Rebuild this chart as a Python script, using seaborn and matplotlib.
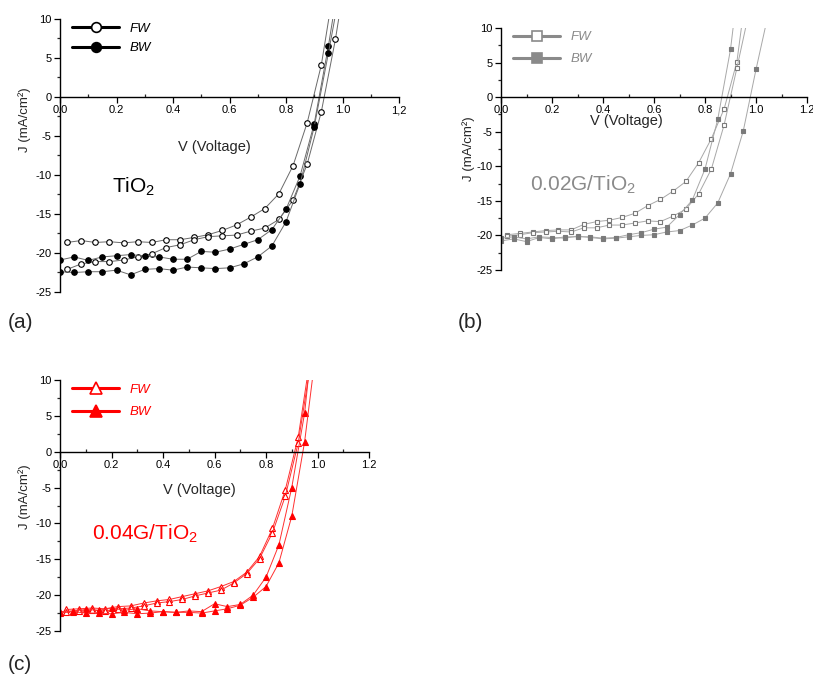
import matplotlib
matplotlib.use("Agg")
import matplotlib.pyplot as plt
import seaborn as sns
from matplotlib.lines import Line2D
from matplotlib.ticker import MultipleLocator, FixedLocator, FixedFormatter

# voltage grids (FW markers sit between BW markers)
v_fw = [0.025, 0.075, 0.125, 0.175, 0.225, 0.275, 0.325, 0.375, 0.425, 0.475,
        0.525, 0.575, 0.625, 0.675, 0.725, 0.775, 0.825, 0.875, 0.925, 0.975]
v_bw = [0.0, 0.05, 0.1, 0.15, 0.2, 0.25, 0.3, 0.35, 0.4, 0.45, 0.5,
        0.55, 0.6, 0.65, 0.7, 0.75, 0.8, 0.85, 0.9, 0.95, 1.0]

# (a) TiO2
a_fw1 = [-18.65, -18.4, -18.65, -18.55, -18.7, -18.55, -18.65, -18.3, -18.3, -18.0,
         -17.65, -17.1, -16.4, -15.4, -14.3, -12.4, -8.8, -3.3, 4.1]
a_fw2 = [-22.1, -21.4, -21.1, -21.1, -20.9, -20.5, -20.1, -19.3, -18.95, -18.3,
         -17.9, -17.8, -17.7, -17.2, -16.8, -15.7, -13.2, -8.6, -1.9, 7.4]
a_bw1 = [-20.9, -20.5, -20.95, -20.5, -20.35, -20.2, -20.4, -20.5, -20.8, -20.8,
         -19.8, -19.9, -19.5, -18.9, -18.3, -17.0, -14.4, -10.1, -3.4, 6.5]
a_bw2 = [-22.4, -22.5, -22.4, -22.4, -22.2, -22.8, -22.1, -22.0, -22.2, -21.8,
         -21.9, -22.0, -21.9, -21.4, -20.5, -19.1, -16.0, -11.1, -3.8, 5.6]
a_exit = [(0.958, 11.5), (0.993, 11.5), (0.972, 11.5), (0.980, 11.5)]

# (b) 0.02G/TiO2
b_fw1 = [-19.9, -19.7, -19.5, -19.3, -19.2, -19.2, -18.4, -18.0, -17.8, -17.4,
         -16.8, -15.7, -14.8, -13.6, -12.2, -9.5, -6.0, -1.7, 5.1]
b_fw2 = [-20.1, -19.9, -19.6, -19.5, -19.4, -19.5, -18.9, -18.9, -18.5, -18.5,
         -18.2, -17.9, -18.0, -17.2, -16.2, -14.0, -10.4, -4.0, 4.2]
b_bw1 = [-20.8, -20.5, -20.9, -20.3, -20.5, -20.2, -20.2, -20.2, -20.4, -20.3,
         -19.9, -19.6, -19.1, -18.8, -17.0, -14.9, -10.4, -3.2, 6.9]
b_bw2 = [-20.4, -20.2, -20.5, -20.2, -20.3, -20.4, -20.1, -20.3, -20.5, -20.4,
         -20.2, -20.0, -19.9, -19.5, -19.3, -18.5, -17.5, -15.3, -11.1, -4.9, 4.0]
b_exit = [(0.948, 11.5), (0.968, 11.5), (0.915, 11.5), (1.045, 11.5)]

# (c) 0.04G/TiO2
c_fw1 = [-22.0, -21.9, -21.8, -21.9, -21.6, -21.5, -21.1, -20.8, -20.6, -20.2,
         -19.8, -19.4, -18.8, -18.1, -16.8, -14.6, -10.7, -5.3, 2.0]
c_fw2 = [-22.3, -22.2, -22.1, -22.2, -21.9, -21.8, -21.5, -21.1, -20.9, -20.6,
         -20.1, -19.7, -19.3, -18.3, -17.0, -14.9, -11.3, -6.2, 1.2]
c_bw1 = [-22.3, -22.2, -22.0, -22.1, -21.8, -22.1, -21.9, -22.2, -22.3, -22.4,
         -22.2, -22.3, -21.2, -21.6, -21.3, -20.0, -17.5, -13.0, -5.0, 5.4]
c_bw2 = [-22.5, -22.3, -22.5, -22.5, -22.6, -22.4, -22.6, -22.5, -22.3, -22.4,
         -22.4, -22.5, -22.2, -21.9, -21.4, -20.3, -18.8, -15.5, -9.0, 1.4]
c_exit = [(0.965, 11.5), (0.970, 11.5), (0.968, 11.5), (0.985, 11.5)]

x_ticks = [0.0, 0.2, 0.4, 0.6, 0.8, 1.0, 1.2]
x_labels_a = ["0.0", "0.2", "0.4", "0.6", "0.8", "1.0", "1,2"]
x_labels = ["0.0", "0.2", "0.4", "0.6", "0.8", "1.0", "1.2"]
y_ticks = [-25, -20, -15, -10, -5, 0, 5, 10]

sns.set_style("ticks")
plt.rcParams["font.family"] = ["Liberation Sans", "DejaVu Sans"]
plt.rcParams["axes.unicode_minus"] = False
plt.rcParams["mathtext.fontset"] = "custom"
plt.rcParams["mathtext.rm"] = "Liberation Sans"
plt.rcParams["mathtext.it"] = "Liberation Sans:italic"

fig = plt.figure(figsize=(8.13, 6.84), dpi=100)
W, H = 813, 684


def px_axes(left, top, right, bottom):
    return fig.add_axes([left / W, 1 - bottom / H, (right - left) / W, (bottom - top) / H])


def style_axes(ax, xlabels, xlab_pos, ylab_pos):
    ax.set_xlim(0, 1.2)
    ax.set_ylim(-25, 10)
    for s in ["top", "right"]:
        ax.spines[s].set_visible(False)
    ax.spines["bottom"].set_position(("data", 0))
    for s in ["left", "bottom"]:
        ax.spines[s].set_linewidth(1.0)
        ax.spines[s].set_color("black")
    ax.xaxis.set_major_locator(FixedLocator(x_ticks))
    ax.xaxis.set_major_formatter(FixedFormatter(xlabels))
    ax.xaxis.set_minor_locator(MultipleLocator(0.1))
    ax.yaxis.set_major_locator(FixedLocator(y_ticks))
    ax.yaxis.set_minor_locator(MultipleLocator(2.5))
    ax.tick_params(axis="both", which="major", labelsize=8, length=4, width=0.9,
                   direction="out", colors="black", pad=2)
    ax.tick_params(axis="x", which="minor", length=2.5, width=0.9, direction="in")
    ax.tick_params(axis="y", which="minor", length=2.5, width=0.9, direction="out")
    ax.set_xlabel("V (Voltage)", fontsize=10.5)
    ax.xaxis.set_label_coords(*xlab_pos)
    ax.set_ylabel("J (mA/cm²)", fontsize=9.5)
    ax.yaxis.set_label_coords(*ylab_pos)
    ax.patch.set_alpha(0)


def draw_panel(ax, curves, marker, ms, mcolor, lcolor):
    for v, j, filled, ext in curves:
        xs = list(v[:len(j)]) + [ext[0]]
        ys = list(j) + [ext[1]]
        sns.lineplot(x=xs, y=ys, ax=ax, sort=False, estimator=None, color=lcolor,
                     lw=0.7, marker=marker, ms=ms, mec=mcolor, mew=0.8,
                     mfc=mcolor if filled else "white", legend=False)


def add_legend(ax, marker, color, ms, anchor, spacing):
    handles = [Line2D([], [], color=color, lw=2.2, marker=marker, ms=ms, mec=color,
                      mfc="white", mew=1.2),
               Line2D([], [], color=color, lw=2.2, marker=marker, ms=ms, mec=color,
                      mfc=color, mew=1.2)]
    ax.legend(handles, ["FW", "BW"], loc="upper left", bbox_to_anchor=anchor,
              frameon=False, handlelength=3.6, handletextpad=0.8, labelspacing=spacing,
              prop={"style": "italic", "size": 9.5}, labelcolor=color)


# (a)
ax_a = px_axes(60, 19, 399, 292)
draw_panel(ax_a, [(v_fw, a_fw1, False, a_exit[0]), (v_fw, a_fw2, False, a_exit[1]),
                  (v_bw, a_bw1, True, a_exit[2]), (v_bw, a_bw2, True, a_exit[3])],
           "o", 4, "black", "#6a6a6a")
style_axes(ax_a, x_labels_a, (0.455, 0.555), (-0.087, 0.63))
add_legend(ax_a, "o", "black", 7, (0.0, 1.03), 0.55)
ax_a.text(0.185, -11.5, "TiO$_2$", fontsize=15, color="black", va="center")

# (b)
ax_b = px_axes(501, 28, 807, 270)
draw_panel(ax_b, [(v_fw, b_fw1, False, b_exit[0]), (v_fw, b_fw2, False, b_exit[1]),
                  (v_bw, b_bw1, True, b_exit[2]), (v_bw, b_bw2, True, b_exit[3])],
           "s", 3.5, "#7a7a7a", "#a8a8a8")
style_axes(ax_b, x_labels, (0.41, 0.645), (-0.085, 0.5))
add_legend(ax_b, "s", "#8a8a8a", 7, (0.0, 1.037), 0.75)
ax_b.text(0.115, -12.7, "0.02G/TiO$_2$", fontsize=15, color="#8a8a8a", va="center")

# (c)
ax_c = px_axes(60, 380, 369, 631)
draw_panel(ax_c, [(v_fw, c_fw1, False, c_exit[0]), (v_fw, c_fw2, False, c_exit[1]),
                  (v_bw, c_bw1, True, c_exit[2]), (v_bw, c_bw2, True, c_exit[3])],
           "^", 4.5, "red", "#ff3030")
style_axes(ax_c, x_labels, (0.45, 0.59), (-0.094, 0.535))
add_legend(ax_c, "^", "red", 8, (0.0, 1.032), 0.75)
ax_c.text(0.125, -11.4, "0.04G/TiO$_2$", fontsize=15, color="red", va="center")

fig.text(8 / W, 1 - 322 / H, "(a)", fontsize=15, va="center")
fig.text(458 / W, 1 - 322 / H, "(b)", fontsize=15, va="center")
fig.text(8 / W, 1 - 665 / H, "(c)", fontsize=15, va="center")

plt.savefig("out.png", dpi=100)
